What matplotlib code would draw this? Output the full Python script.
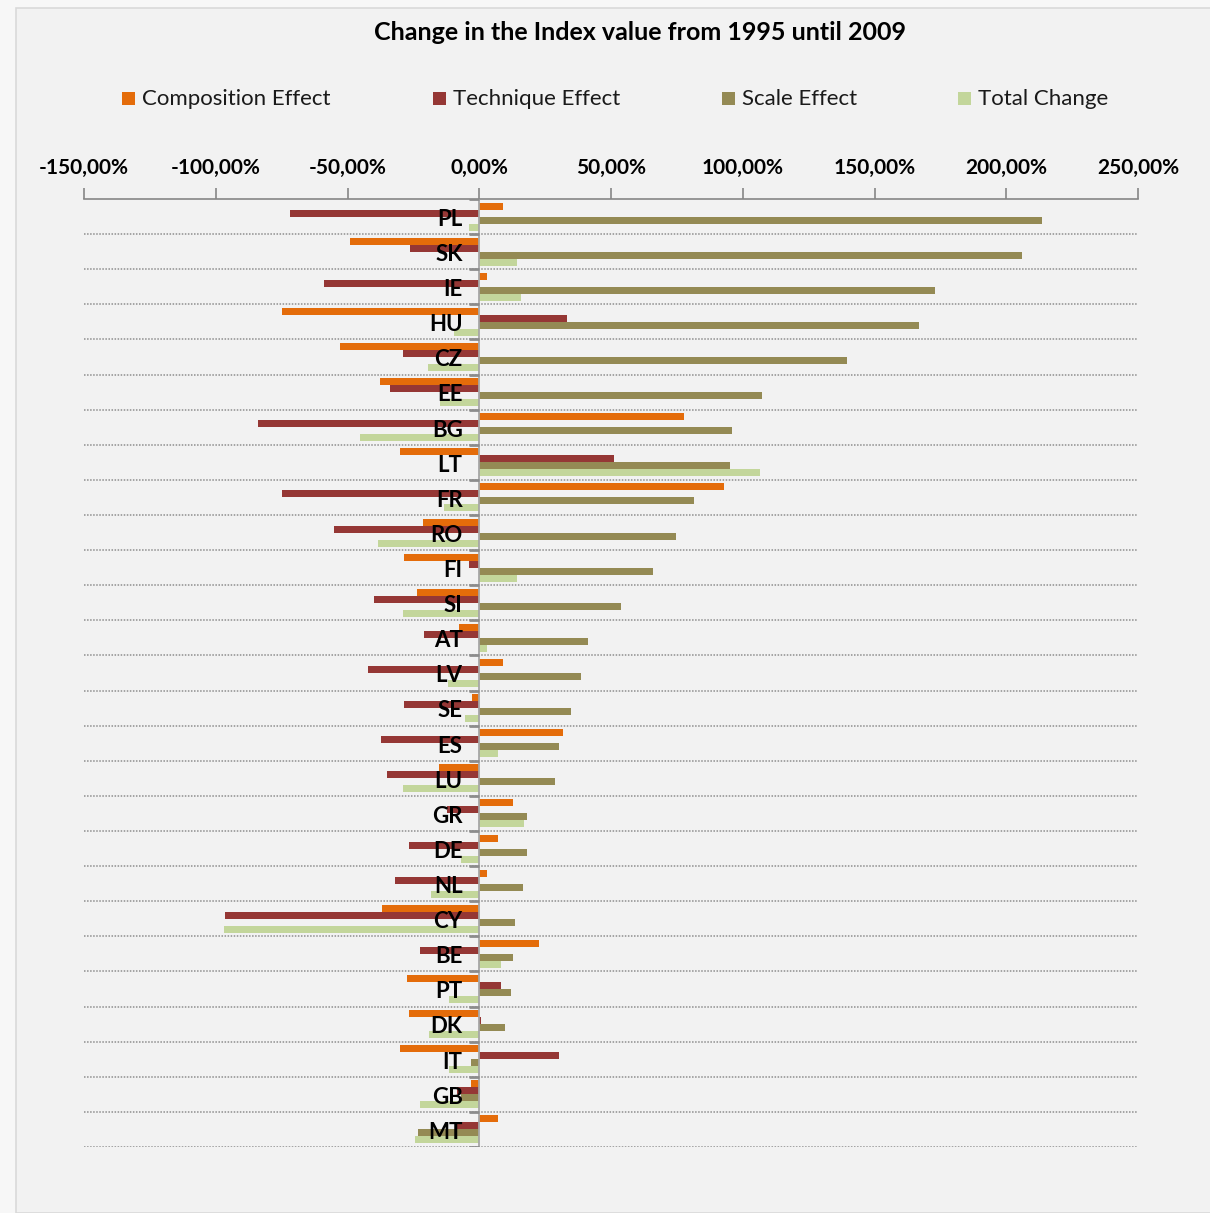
import matplotlib
matplotlib.use("Agg")
import matplotlib.pyplot as plt
from matplotlib.patches import Rectangle
import numpy as np

countries = ["PL", "SK", "IE", "HU", "CZ", "EE", "BG", "LT", "FR", "RO", "FI", "SI", "AT",
             "LV", "SE", "ES", "LU", "GR", "DE", "NL", "CY", "BE", "PT", "DK", "IT", "GB", "MT"]

composition = [8.9, -48.9, 2.9, -75.0, -52.8, -37.6, 77.6, -29.9, 93.0, -21.4, -28.4, -23.8, -7.8,
               8.9, -2.6, 31.7, -15.3, 12.8, 7.3, 2.8, -36.8, 22.7, -27.6, -26.7, -30.0, -3.0, 7.3]
technique = [-71.8, -26.2, -58.9, 33.4, -29.1, -33.9, -84.0, 51.0, -75.0, -55.2, -3.9, -39.9, -20.9,
             -42.2, -28.4, -37.4, -35.1, -12.4, -26.7, -32.0, -96.4, -22.3, 8.2, 0.5, 30.4, -8.5, -9.1]
scale = [213.4, 205.8, 173.1, 166.9, 139.5, 107.3, 95.9, 95.3, 81.5, 74.7, 66.1, 53.9, 41.1,
         38.7, 34.9, 30.4, 28.7, 18.1, 18.1, 16.7, 13.4, 12.8, 12.0, 9.8, -3.2, -7.0, -23.1]
total = [-3.9, 14.3, 15.7, -9.7, -19.4, -14.8, -45.1, 106.5, -13.3, -38.4, 14.3, -29.1, 2.9,
         -11.9, -5.5, 7.3, -29.1, 16.9, -6.8, -18.5, -97.0, 8.2, -11.6, -19.1, -11.6, -22.4, -24.5]

series_names = ["Composition Effect", "Technique Effect", "Scale Effect", "Total Change"]
series_colors = ["#E46C0A", "#953735", "#948A54", "#C3D69B"]

BG = "#F2F2F2"
W, H = 1210, 1213

fig = plt.figure(figsize=(W / 100, H / 100), dpi=100)
fig.patch.set_facecolor("#F7F7F7")
# chart area frame (Excel style), kept behind the axes
fig.patches.append(Rectangle((16 / W, 0), 1, 1 - 8 / H, transform=fig.transFigure,
                             facecolor=BG, edgecolor="#D9D9D9", lw=1.2, zorder=-10))

ax = fig.add_axes([84 / W, 1 - 1147 / H, (1138 - 84) / W, (1147 - 199) / H])
ax.set_facecolor("none")

y = np.arange(len(countries))
h = 0.2
offsets = [-0.3, -0.1, 0.1, 0.3]
for vals, off, col in zip([composition, technique, scale, total], offsets, series_colors):
    ax.barh(y + off, vals, height=h, color=col, zorder=3)

ax.set_xlim(-150, 250)
ax.set_ylim(len(countries) - 0.5, -0.5)

# dotted separators between categories
for k in range(1, len(countries) + 1):
    ax.axhline(k - 0.5, color="#8E8E8E", lw=1.1, ls=(0, (1, 1)), zorder=1)
ax.axvline(0, color="#A6A6A6", lw=1.3, zorder=4)
ax.hlines(np.arange(len(countries) + 1) - 0.5, -4, 0, color="#8C8C8C", lw=2, zorder=4)

for sp in ["left", "right", "bottom"]:
    ax.spines[sp].set_visible(False)
ax.spines["top"].set_color("#868686")
ax.spines["top"].set_linewidth(1.2)

ax.xaxis.tick_top()
xt = np.arange(-150, 251, 50)
ax.set_xticks(xt)
ax.set_xticklabels([f"{v:.2f}%".replace(".", ",") for v in xt],
                   fontsize=15, fontweight="bold", family="Lato")
ax.tick_params(axis="x", direction="out", length=8, color="#868686", width=1.2, pad=7)
ax.set_yticks([])

# category labels sit over the bars, right next to the zero axis
for i, c in enumerate(countries):
    ax.text(-6.3, i + 0.08, c, ha="right", va="center", fontsize=16, fontweight="bold",
            family="Lato", color="black", zorder=5)

fig.text(640 / W, 1 - 32 / H, "Change in the Index value from 1995 until 2009",
         ha="center", va="center", fontsize=18, fontweight="bold", family="Lato")

leg_x = [122, 433, 722, 958]
for xm, name, col in zip(leg_x, series_names, series_colors):
    fig.patches.append(Rectangle((xm / W, 1 - 105 / H), 13 / W, 13 / H,
                                 transform=fig.transFigure, facecolor=col, edgecolor="none"))
    fig.text((xm + 20) / W, 1 - 99 / H, name, ha="left", va="center", fontsize=16,
             family="Lato", color="#1A1A1A")

fig.savefig("out.png", dpi=100, facecolor=fig.get_facecolor())
